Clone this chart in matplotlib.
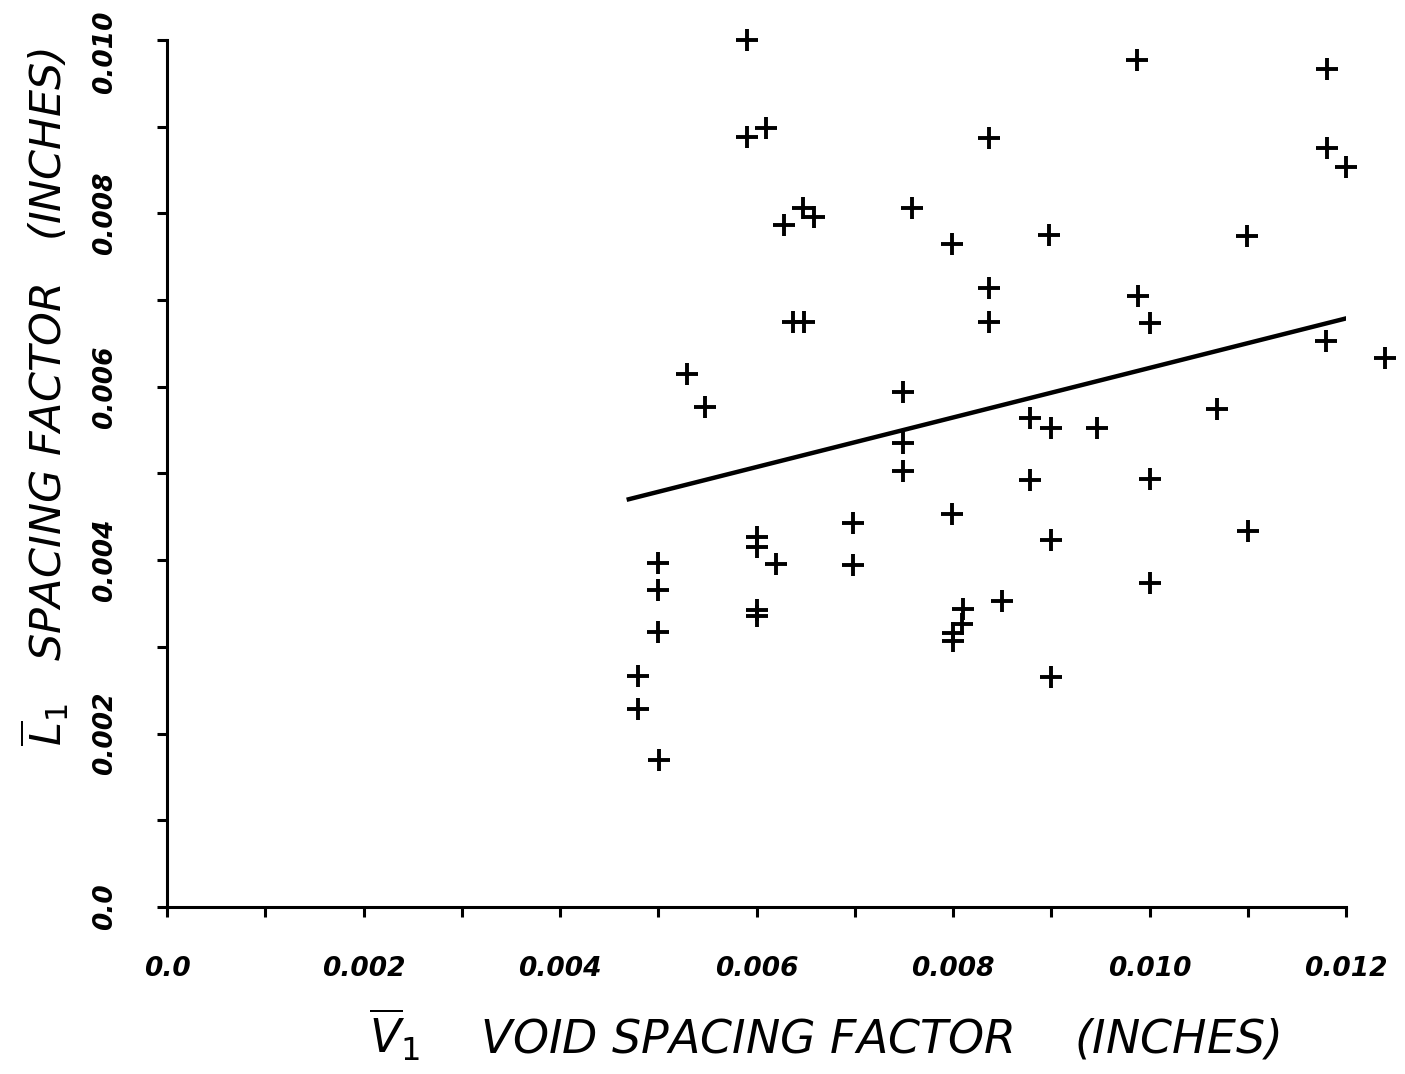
import matplotlib
matplotlib.use("Agg")
import numpy as np
import matplotlib.pyplot as plt
from matplotlib.transforms import ScaledTranslation

# void spacing factor V1 (inches)
void_spacing = [0.0059, 0.0059, 0.0061, 0.00647, 0.00658, 0.00628, 0.00758, 0.00799,
                0.00837, 0.00837, 0.00837, 0.00637, 0.00648, 0.00529, 0.00548, 0.00749,
                0.00987, 0.01181, 0.01181, 0.01200, 0.00898, 0.01099, 0.00988, 0.01000,
                0.01180, 0.01240, 0.01069, 0.00749, 0.00749, 0.00878, 0.00900, 0.00947,
                0.00878, 0.00799, 0.00698, 0.00698, 0.00900, 0.00500, 0.00500, 0.00500,
                0.00479, 0.00479, 0.00501, 0.00600, 0.00600, 0.00620, 0.00600, 0.00600,
                0.00810, 0.00809, 0.00800, 0.00800, 0.00850, 0.00900, 0.01000, 0.01000,
                0.01100]

# spacing factor L1 (inches)
spacing_factor = [0.0100, 0.00888, 0.00898, 0.00806, 0.00796, 0.00787, 0.00806, 0.00765,
                  0.00887, 0.00714, 0.00675, 0.00675, 0.00675, 0.00615, 0.00577, 0.00594,
                  0.00977, 0.00967, 0.00875, 0.00854, 0.00775, 0.00774, 0.00705, 0.00674,
                  0.00653, 0.00633, 0.00574, 0.00535, 0.00503, 0.00564, 0.00553, 0.00553,
                  0.00493, 0.00453, 0.00443, 0.00395, 0.00423, 0.00397, 0.00366, 0.00317,
                  0.00266, 0.00228, 0.00170, 0.00427, 0.00415, 0.00396, 0.00343, 0.00336,
                  0.00344, 0.00326, 0.00316, 0.00307, 0.00353, 0.00265, 0.00494, 0.00374,
                  0.00434]

# regression line
fit_intercept = 0.00336
fit_slope = 0.2857
fit_range = [0.0047, 0.0120]

x_ticks = [0.0, 0.001, 0.002, 0.003, 0.004, 0.005, 0.006, 0.007, 0.008, 0.009, 0.010, 0.011, 0.012]
x_labels = ['0.0', '', '0.002', '', '0.004', '', '0.006', '', '0.008', '', '0.010', '', '0.012']
y_ticks = [0.0, 0.001, 0.002, 0.003, 0.004, 0.005, 0.006, 0.007, 0.008, 0.009, 0.010]
y_labels = ['0.0', '', '0.002', '', '0.004', '', '0.006', '', '0.008', '', '0.010']

fig = plt.figure(figsize=(14.05, 10.74), dpi=100)
ax = fig.add_axes([0.1189, 0.1555, 0.8391, 0.8073])

# data points
ax.plot(void_spacing, spacing_factor, linestyle='none', marker='+', markersize=16,
        markeredgewidth=2.8, color='black', clip_on=False)

# fitted line
fx = np.array(fit_range)
ax.plot(fx, fit_intercept + fit_slope * fx, color='black', linewidth=3.2)

ax.set_xlim(0, 0.012)
ax.set_ylim(0, 0.010)

for side in ['top', 'right']:
    ax.spines[side].set_visible(False)
for side in ['left', 'bottom']:
    ax.spines[side].set_linewidth(2.2)

tick_font = dict(family='DejaVu Sans', weight='bold', style='oblique', size=19)
ax.set_xticks(x_ticks)
ax.set_xticklabels(x_labels, fontdict=tick_font)
ax.set_yticks(y_ticks)
ax.set_yticklabels(y_labels, fontdict=tick_font, rotation=90, va='center')
ax.tick_params(axis='both', direction='out', length=7, width=2.2, pad=28)

# top label sits a little lower so it stays inside the page
top_lab = ax.get_yticklabels()[-1]
top_lab.set_transform(top_lab.get_transform() + ScaledTranslation(0, -0.12, fig.dpi_scale_trans))

fig.text(0.587, 0.036, r'$\overline{V}_{1}$    VOID SPACING FACTOR    (INCHES)',
         ha='center', va='center', family='DejaVu Sans', style='oblique', size=33)
fig.text(0.032, 0.63, r'$\overline{L}_{1}$   SPACING FACTOR   (INCHES)',
         ha='center', va='center', rotation=90, family='DejaVu Sans',
         style='oblique', size=31)

plt.savefig('out.png', dpi=100)
